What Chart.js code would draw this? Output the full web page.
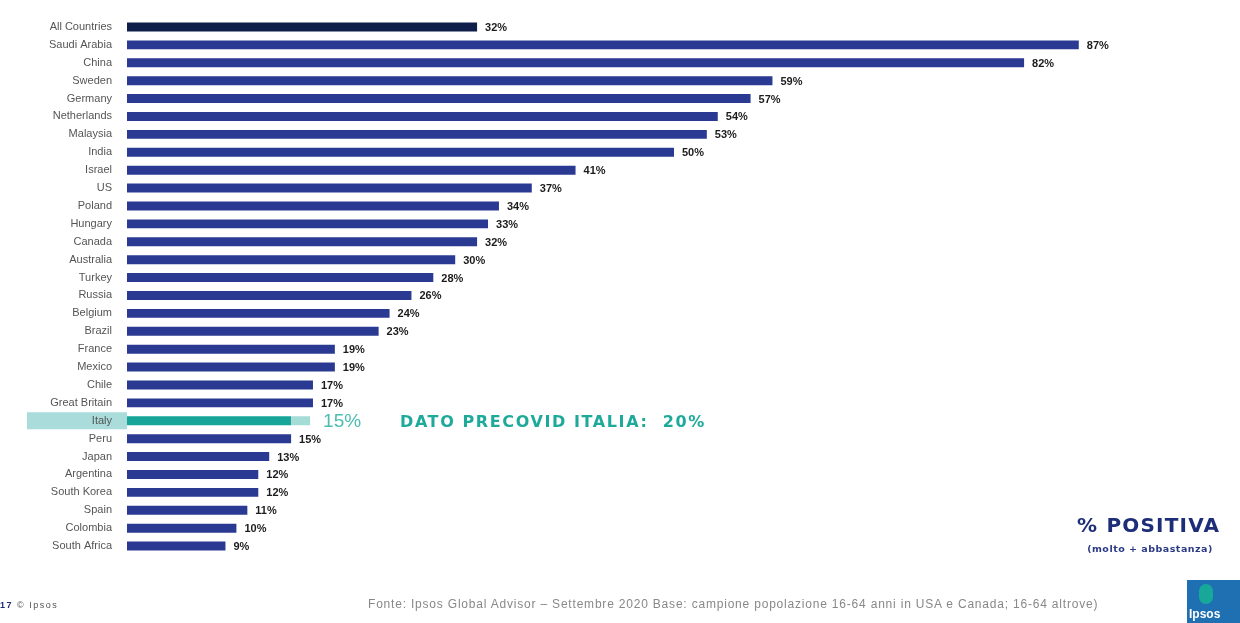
<!DOCTYPE html>
<html>
<head>
<meta charset="utf-8">
<script src="https://cdn.jsdelivr.net/npm/chart.js@4.4.0/dist/chart.umd.min.js"></script>
<style>
    body { margin: 0; background: #fff; font-family: "Liberation Sans", Arial, sans-serif; }
    #wrap { position: relative; width: 1240px; height: 623px; overflow: hidden; }
    .abs { position: absolute; white-space: nowrap; }
    #precovid { left: 400px; top: 412px; color: #1fa99b; font: bold 16px "DejaVu Sans", sans-serif; letter-spacing: 1.6px; }
    #positiva { left: 1077px; top: 513px; color: #1e2d78; font: bold 20px "DejaVu Sans", sans-serif; letter-spacing: 1.2px; }
    #molto { left: 1080px; top: 543px; width: 140px; text-align: center; color: #2a3a85; font: bold 9.5px "DejaVu Sans", sans-serif; letter-spacing: 0.5px; }
    #page { left: 0px; top: 600px; color: #555; font-size: 9px; letter-spacing: 1.5px; }
    #page b { color: #1e2d78; }
    #fonte { left: 368px; top: 597px; color: #888; font-size: 12px; letter-spacing: 0.8px; }
    #logo { left: 1187px; top: 580px; width: 60px; height: 50px; background: #1f6fb3; }
    #logo span { position: absolute; left: 2px; top: 27px; color: #fff; font: bold 12px "Liberation Sans", sans-serif; }
    #logo i { position: absolute; left: 12px; top: 4px; width: 14px; height: 20px; background: #17a89a; border-radius: 7px; }
</style>
</head>
<body>
<div id="wrap">
    <canvas id="chart" width="1240" height="623"></canvas>
    <div class="abs" id="precovid">DATO PRECOVID ITALIA:&nbsp; 20%</div>
    <div class="abs" id="positiva">% POSITIVA</div>
    <div class="abs" id="molto">(molto + abbastanza)</div>
    <div class="abs" id="page"><b>17</b> © Ipsos</div>
    <div class="abs" id="fonte">Fonte: Ipsos Global Advisor – Settembre 2020 Base: campione popolazione 16-64 anni in USA e Canada; 16-64 altrove)</div>
    <div class="abs" id="logo"><i></i><span>Ipsos</span></div>
</div>
<script>
const countries = ['All Countries', 'Saudi Arabia', 'China', 'Sweden', 'Germany', 'Netherlands', 'Malaysia', 'India',
    'Israel', 'US', 'Poland', 'Hungary', 'Canada', 'Australia', 'Turkey', 'Russia', 'Belgium', 'Brazil', 'France',
    'Mexico', 'Chile', 'Great Britain', 'Italy', 'Peru', 'Japan', 'Argentina', 'South Korea', 'Spain', 'Colombia', 'South Africa'];
const positiva = [32, 87, 82, 59, 57, 54, 53, 50, 41, 37, 34, 33, 32, 30, 28, 26, 24, 23, 19, 19, 17, 17, 15, 15, 13, 12, 12, 11, 10, 9];
const highlight = 'Italy';
const totalLabel = 'All Countries';

const NAVY = '#2a3a92';
const DARK = '#0f1e4a';
const TEAL = '#16a598';

const barColors = countries.map(c => c === totalLabel ? DARK : (c === highlight ? TEAL : NAVY));

// light band behind the Italy label + data labels
const decorPlugin = {
    id: 'decor',
    beforeDraw(chart) {
        const ctx = chart.ctx;
        const y = chart.scales.y;
        const idx = countries.indexOf(highlight);
        const cy = y.getPixelForValue(idx);
        ctx.save();
        ctx.fillStyle = '#a9dcda';
        ctx.fillRect(27, cy - 8.5, chart.chartArea.left - 27, 17);
        ctx.restore();
    },
    afterDatasetsDraw(chart) {
        const ctx = chart.ctx;
        const meta = chart.getDatasetMeta(0);
        ctx.save();
        ctx.textBaseline = 'middle';
        meta.data.forEach((bar, i) => {
            if (countries[i] === highlight) {
                ctx.fillStyle = '#a6dcd6';
                ctx.fillRect(bar.x, bar.y - 4.5, 19, 9);
                ctx.fillStyle = '#4dbdb2';
                ctx.font = '19px "Liberation Sans", sans-serif';
                ctx.fillText(positiva[i] + '%', bar.x + 32, bar.y + 1);
            } else {
                ctx.fillStyle = '#1c1c1c';
                ctx.font = 'bold 11px "Liberation Sans", sans-serif';
                ctx.fillText(positiva[i] + '%', bar.x + 8, bar.y + 1);
            }
        });
        ctx.restore();
    }
};

new Chart(document.getElementById('chart'), {
    type: 'bar',
    data: {
        labels: countries,
        datasets: [{
            data: positiva,
            backgroundColor: barColors,
            borderWidth: 0,
            categoryPercentage: 1,
            barPercentage: 0.5
        }]
    },
    options: {
        indexAxis: 'y',
        responsive: false,
        animation: false,
        layout: { padding: { left: 0, right: 19, top: 18, bottom: 68 } },
        plugins: {
            legend: { display: false },
            tooltip: { enabled: false }
        },
        scales: {
            x: {
                min: 0,
                max: 100,
                display: false
            },
            y: {
                afterFit(scale) { scale.width = 127; },
                grid: { display: false },
                border: { display: false },
                ticks: {
                    autoSkip: false,
                    padding: 7,
                    color: '#555',
                    font: { family: '"Liberation Sans", Arial, sans-serif', size: 11 }
                }
            }
        }
    },
    plugins: [decorPlugin]
});
</script>
</body>
</html>
